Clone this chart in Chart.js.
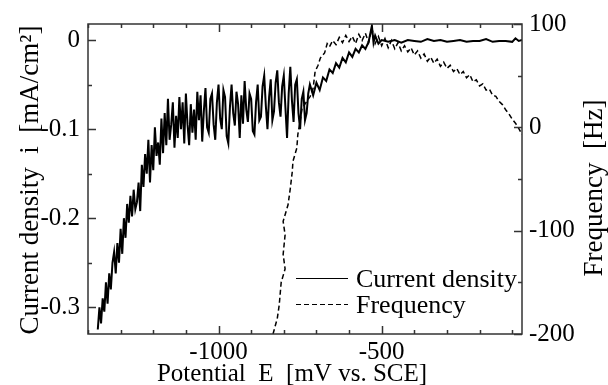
<!DOCTYPE html>
<html>
<head>
<meta charset="utf-8">
<script src="https://cdn.jsdelivr.net/npm/chart.js@4/dist/chart.umd.min.js"></script>
<style>
  body { margin: 0; background: #fff; }
  canvas { display: block; }
</style>
</head>
<body>
<canvas id="chart" width="608" height="385"></canvas>
<script>
// potential (mV vs SCE) and current density (mA/cm2)
const cdPotential = [
  -1370, -1365, -1360, -1355, -1350, -1345, -1340, -1335, -1330, -1325,
  -1320, -1315, -1310, -1305, -1300, -1295, -1290, -1285, -1280, -1275,
  -1270, -1265, -1260, -1255, -1250, -1245, -1240, -1235, -1230, -1225,
  -1220, -1215, -1210, -1205, -1200, -1195, -1190, -1185, -1180, -1175,
  -1170, -1165, -1160, -1155, -1150, -1145, -1140, -1135, -1130, -1125,
  -1120, -1115, -1110, -1105, -1100, -1095, -1090, -1085, -1080, -1075,
  -1070, -1065, -1060, -1055, -1050, -1045, -1040, -1035, -1030, -1025,
  -1020, -1015, -1010, -1005, -1000, -995, -990, -985, -980, -975,
  -970, -965, -960, -955, -950, -945, -940, -935, -930, -925,
  -920, -915, -910, -905, -900, -895, -890, -885, -880, -875,
  -870, -865, -860, -855, -850, -845, -840, -835, -830, -825,
  -820, -815, -810, -805, -800, -795, -790, -785, -780, -775,
  -770, -765, -760, -755, -750, -745, -740, -735, -730, -725,
  -720, -710, -700, -690, -680, -670, -660, -650, -640, -630,
  -620, -610, -600, -590, -580, -570, -560, -550, -540, -530,
  -525, -520, -510, -500, -480, -460, -440, -420, -400, -380,
  -360, -340, -320, -300, -280, -260, -240, -220, -200, -180,
  -160, -140, -120, -100, -90, -80, -70
];
const cdValues = [
  -0.325, -0.300, -0.318, -0.290, -0.305, -0.272, -0.296, -0.262, -0.280, -0.250,
  -0.238, -0.262, -0.228, -0.250, -0.212, -0.240, -0.200, -0.222, -0.184, -0.205,
  -0.175, -0.198, -0.168, -0.190, -0.182, -0.160, -0.192, -0.140, -0.165, -0.128,
  -0.150, -0.112, -0.160, -0.118, -0.146, -0.098, -0.130, -0.115, -0.140, -0.088,
  -0.127, -0.082, -0.118, -0.066, -0.112, -0.095, -0.070, -0.121, -0.085, -0.110,
  -0.064, -0.100, -0.070, -0.116, -0.060, -0.095, -0.118, -0.072, -0.104, -0.078,
  -0.112, -0.058, -0.090, -0.062, -0.114, -0.080, -0.054, -0.098, -0.104, -0.066,
  -0.060, -0.095, -0.112, -0.070, -0.050, -0.088, -0.100, -0.056, -0.064, -0.108,
  -0.116, -0.075, -0.050, -0.082, -0.096, -0.058, -0.072, -0.110, -0.062, -0.094,
  -0.046, -0.078, -0.092, -0.060, -0.066, -0.102, -0.106, -0.070, -0.050, -0.090,
  -0.086, -0.052, -0.040, -0.074, -0.100, -0.064, -0.044, -0.090, -0.080, -0.048,
  -0.034, -0.070, -0.086, -0.052, -0.040, -0.076, -0.110, -0.060, -0.030, -0.068,
  -0.092, -0.050, -0.044, -0.082, -0.100, -0.066, -0.058, -0.090, -0.082, -0.060,
  -0.050, -0.062, -0.048, -0.056, -0.042, -0.046, -0.033, -0.037, -0.026, -0.031,
  -0.020, -0.025, -0.014, -0.019, -0.010, -0.014, -0.006, -0.010, -0.002, 0.016,
  -0.003, 0.005, -0.004, 0.000, -0.002, 0.000, -0.003, 0.000, -0.001, -0.002,
  0.001, -0.001, 0.000, -0.002, -0.001, 0.000, -0.002, -0.001, -0.001, 0.001,
  -0.002, -0.001, -0.001, -0.002, 0.002, -0.001, 0.000
];

// potential (mV vs SCE) and frequency (Hz)
const frPotential = [
  -833, -820, -814, -808, -796, -802, -796, -802, -787, -780,
  -774, -772, -760, -757, -750, -744, -730, -719, -710, -704,
  -695, -688, -675, -667, -660, -650, -640, -630, -620, -610,
  -600, -590, -580, -570, -560, -550, -540, -530, -520, -510,
  -500, -490, -480, -470, -460, -450, -440, -430, -420, -410,
  -400, -390, -380, -370, -360, -350, -340, -330, -320, -310,
  -300, -290, -280, -270, -260, -250, -240, -230, -220, -210,
  -200, -190, -180, -170, -160, -150, -140, -130, -120, -110,
  -100, -90, -80, -70
];
const frValues = [
  -200, -185, -172, -150, -137, -123, -104, -91, -75, -59,
  -43, -33, -20, -7, 6, 18, 25, 30, 38, 54,
  60, 67, 72, 81, 78, 84, 80, 87, 82, 89,
  83, 88, 81, 90, 84, 91, 82, 96, 81, 88,
  79, 86, 77, 84, 76, 82, 74, 79, 73, 77,
  70, 74, 67, 71, 64, 68, 62, 66, 59, 63,
  57, 60, 54, 57, 51, 54, 48, 51, 44, 46,
  40, 42, 36, 37, 31, 30, 25, 22, 17, 13,
  8, 4, -1, -7
];

// tick positions and labelled ticks
const xTickValues = [-1400, -1300, -1200, -1100, -1000, -900, -800, -700, -600, -500, -400, -300, -200, -100];
const xLabelValues = [-1000, -500];
const yTickValues = [0, -0.05, -0.1, -0.15, -0.2, -0.25, -0.3];
const yLabelValues = [0, -0.1, -0.2, -0.3];
const y1TickValues = [100, 50, 0, -50, -100, -150, -200];
const y1LabelValues = [100, 0, -100, -200];

const seriesNames = ['Current density', 'Frequency'];
const serif = "'Liberation Serif', 'Times New Roman', serif";

Chart.defaults.font.family = serif;
Chart.defaults.font.size = 25;
Chart.defaults.color = '#000';

function isIn(list, v) {
  return list.some(l => Math.abs(l - v) < 1e-9);
}

// frame, inward ticks, axis titles and legend drawn on top
const framePlugin = {
  id: 'frame',
  afterDraw(chart) {
    const ctx = chart.ctx;
    const a = chart.chartArea;
    const sx = chart.scales.x, sy = chart.scales.y, sy1 = chart.scales.y1;
    ctx.save();
    ctx.strokeStyle = '#333';
    ctx.lineWidth = 1.5;
    ctx.strokeRect(a.left, a.top, a.right - a.left, a.bottom - a.top);

    ctx.beginPath();
    xTickValues.forEach(v => {
      let px = Math.round(sx.getPixelForValue(v)) + 0.5;
      let len = isIn(xLabelValues, v) ? 8 : 4;
      ctx.moveTo(px, a.bottom); ctx.lineTo(px, a.bottom - len);
      ctx.moveTo(px, a.top); ctx.lineTo(px, a.top + len);
    });
    yTickValues.forEach(v => {
      let py = Math.round(sy.getPixelForValue(v)) + 0.5;
      let len = isIn(yLabelValues, v) ? 8 : 4;
      ctx.moveTo(a.left, py); ctx.lineTo(a.left + len, py);
    });
    y1TickValues.forEach(v => {
      let py = Math.round(sy1.getPixelForValue(v)) + 0.5;
      let len = isIn(y1LabelValues, v) ? 8 : 4;
      ctx.moveTo(a.right, py); ctx.lineTo(a.right - len, py);
    });
    ctx.stroke();

    // axis titles
    ctx.fillStyle = '#000';
    ctx.textAlign = 'center';
    ctx.textBaseline = 'alphabetic';
    ctx.font = '25px ' + serif;
    ctx.fillText('Potential  E  [mV vs. SCE]', 292, 381);

    ctx.font = '27px ' + serif;
    ctx.save();
    ctx.translate(38, 180);
    ctx.rotate(-Math.PI / 2);
    ctx.fillText('Current density  i  [mA/cm²]', 0, 0);
    ctx.restore();

    ctx.save();
    ctx.translate(602, 188);
    ctx.rotate(-Math.PI / 2);
    ctx.fillText('Frequency  [Hz]', 0, 0);
    ctx.restore();

    // legend
    ctx.font = '26px ' + serif;
    ctx.textAlign = 'left';
    chart.data.datasets.forEach((ds, i) => {
      let y = 278 + i * 26;
      ctx.save();
      ctx.strokeStyle = '#000';
      ctx.lineWidth = 1.2;
      ctx.setLineDash(ds.borderDash || []);
      ctx.beginPath();
      ctx.moveTo(296, y + 0.5);
      ctx.lineTo(348, y + 0.5);
      ctx.stroke();
      ctx.restore();
      ctx.fillText(ds.label, 356, y + 9);
    });
    ctx.restore();
  }
};

new Chart(document.getElementById('chart'), {
  type: 'line',
  data: {
    datasets: [
      {
        label: seriesNames[0],
        data: cdPotential.map((x, i) => ({ x: x, y: cdValues[i] })),
        yAxisID: 'y',
        borderColor: '#000',
        borderWidth: 2,
        pointRadius: 0,
        tension: 0,
        fill: false
      },
      {
        label: seriesNames[1],
        data: frPotential.map((x, i) => ({ x: x, y: frValues[i] })),
        yAxisID: 'y1',
        borderColor: '#000',
        borderWidth: 1.5,
        borderDash: [5, 3],
        pointRadius: 0,
        tension: 0,
        fill: false
      }
    ]
  },
  options: {
    responsive: false,
    devicePixelRatio: 1,
    animation: false,
    layout: { padding: { top: 24, left: 0, right: 0, bottom: 0 } },
    plugins: { legend: { display: false }, tooltip: { enabled: false } },
    scales: {
      x: {
        type: 'linear',
        position: 'bottom',
        min: -1400,
        max: -70,
        afterBuildTicks: s => { s.ticks = xTickValues.map(v => ({ value: v })); },
        afterFit: s => { s.height = 51; },
        grid: { display: false, drawTicks: false },
        border: { display: false },
        ticks: {
          autoSkip: false,
          maxRotation: 0,
          padding: 3,
          callback: v => isIn(xLabelValues, v) ? String(v) : ''
        }
      },
      y: {
        type: 'linear',
        position: 'left',
        min: -0.330,
        max: 0.018,
        afterBuildTicks: s => { s.ticks = yTickValues.map(v => ({ value: v })); },
        afterFit: s => { s.width = 88; },
        grid: { display: false, drawTicks: false },
        border: { display: false },
        ticks: {
          autoSkip: false,
          padding: 8,
          callback: v => isIn(yLabelValues, v) ? String(v) : ''
        }
      },
      y1: {
        type: 'linear',
        position: 'right',
        min: -200,
        max: 100,
        afterBuildTicks: s => { s.ticks = y1TickValues.map(v => ({ value: v })); },
        afterFit: s => { s.width = 86; },
        grid: { display: false, drawTicks: false },
        border: { display: false },
        ticks: {
          autoSkip: false,
          padding: 7,
          callback: v => isIn(y1LabelValues, v) ? String(v) : ''
        }
      }
    }
  },
  plugins: [framePlugin]
});
</script>
</body>
</html>
